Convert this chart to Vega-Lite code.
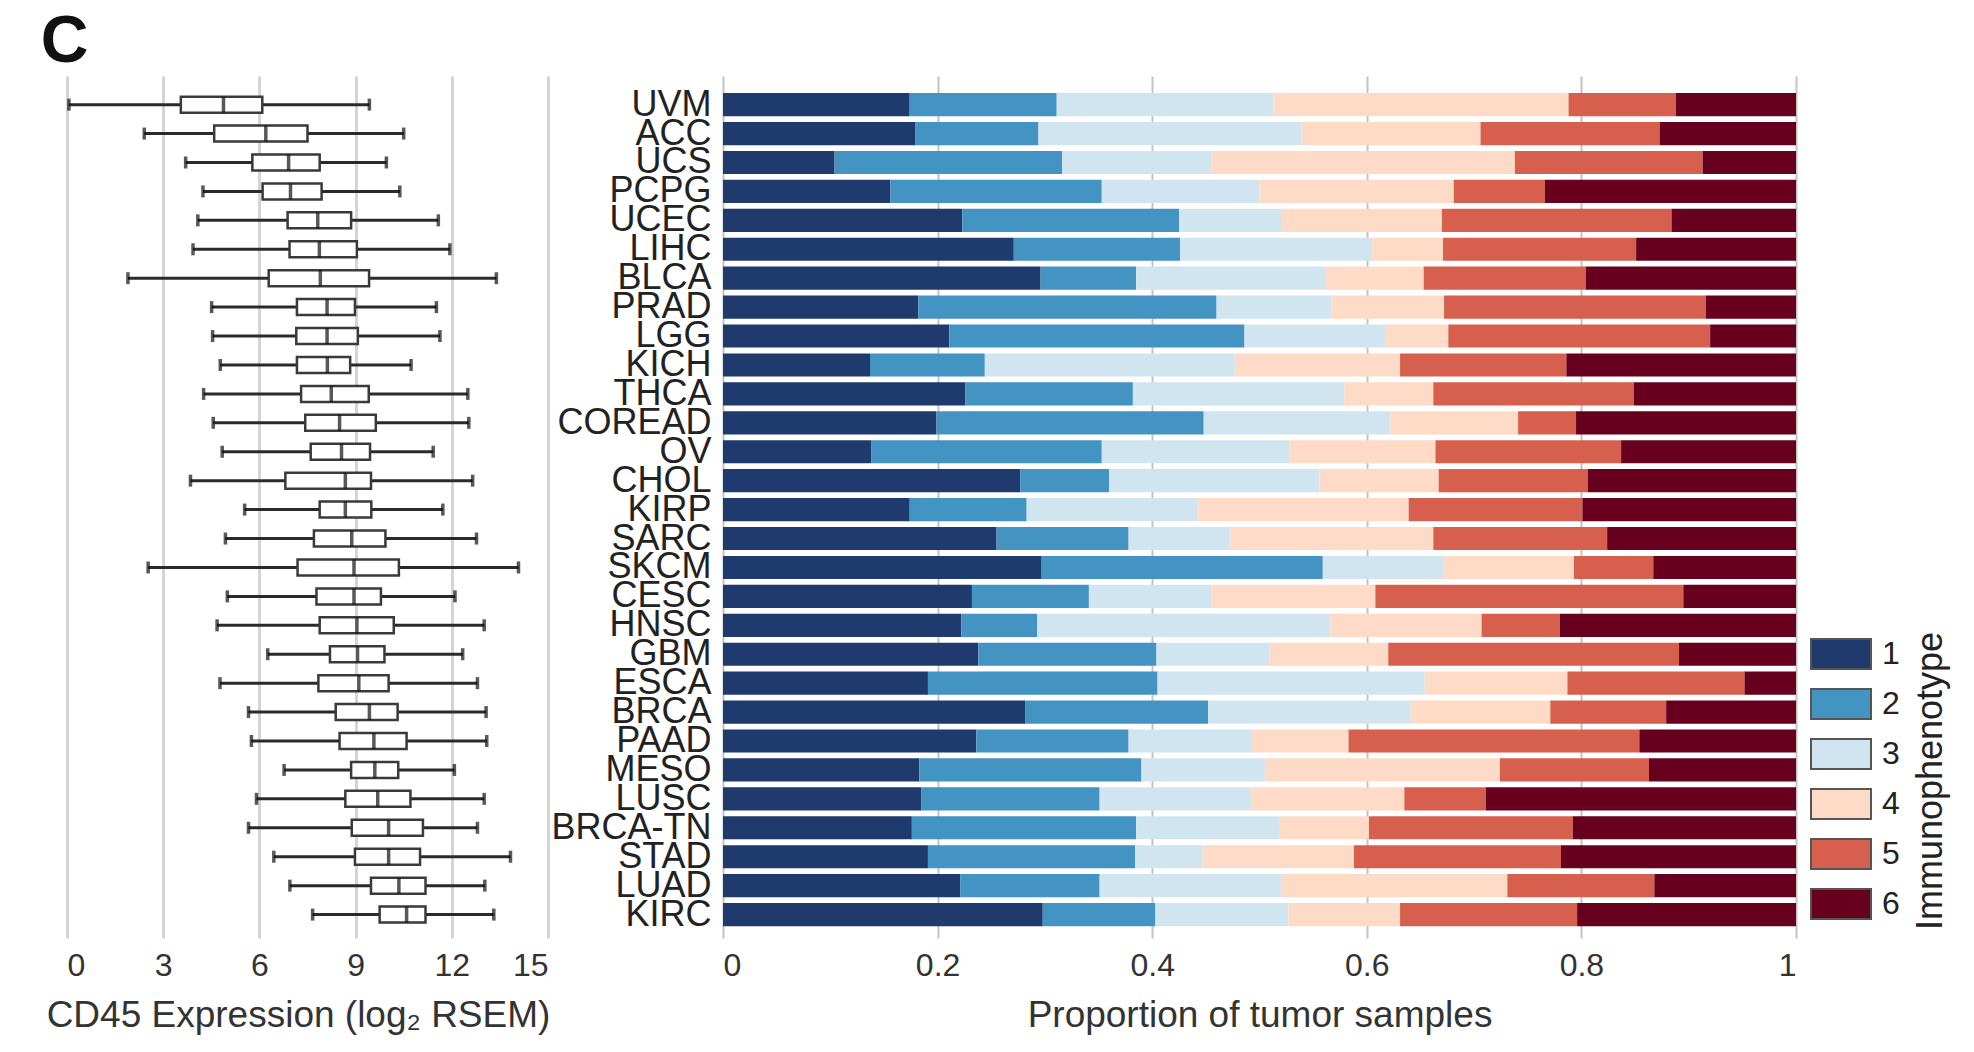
{
  "$schema": "https://vega.github.io/schema/vega-lite/v6.json",
  "background": "white",
  "padding": {"left": 40, "top": 9, "right": 10, "bottom": 10},
  "config": {
    "font": "Liberation Sans",
    "view": {"stroke": null},
    "axis": {"labelColor": "#333", "titleColor": "#333", "titleFontWeight": "normal", "domain": false, "ticks": false}
  },
  "title": {"text": "C", "fontSize": 66, "fontWeight": "bold", "anchor": "start", "color": "#111", "offset": 0, "dx": -5.5},
  "datasets": {
    "box": [
      {"cancer": "UVM", "min": 0.06, "q1": 3.55, "median": 4.88, "q3": 6.09, "max": 9.43},
      {"cancer": "ACC", "min": 2.41, "q1": 4.59, "median": 6.2, "q3": 7.5, "max": 10.5},
      {"cancer": "UCS", "min": 3.7, "q1": 5.78, "median": 6.91, "q3": 7.88, "max": 9.96},
      {"cancer": "PCPG", "min": 4.24, "q1": 6.1, "median": 6.97, "q3": 7.94, "max": 10.38},
      {"cancer": "UCEC", "min": 4.08, "q1": 6.88, "median": 7.82, "q3": 8.86, "max": 11.58},
      {"cancer": "LIHC", "min": 3.93, "q1": 6.94, "median": 7.87, "q3": 9.04, "max": 11.94},
      {"cancer": "BLCA", "min": 1.9, "q1": 6.29, "median": 7.9, "q3": 9.42, "max": 13.39},
      {"cancer": "PRAD", "min": 4.51, "q1": 7.17, "median": 8.11, "q3": 8.98, "max": 11.52},
      {"cancer": "LGG", "min": 4.54, "q1": 7.15, "median": 8.11, "q3": 9.07, "max": 11.63},
      {"cancer": "KICH", "min": 4.78, "q1": 7.17, "median": 8.12, "q3": 8.83, "max": 10.73},
      {"cancer": "THCA", "min": 4.26, "q1": 7.3, "median": 8.24, "q3": 9.41, "max": 12.5},
      {"cancer": "COREAD", "min": 4.56, "q1": 7.43, "median": 8.5, "q3": 9.63, "max": 12.53},
      {"cancer": "OV", "min": 4.84, "q1": 7.6, "median": 8.56, "q3": 9.45, "max": 11.42},
      {"cancer": "CHOL", "min": 3.85, "q1": 6.81, "median": 8.68, "q3": 9.48, "max": 12.65},
      {"cancer": "KIRP", "min": 5.54, "q1": 7.88, "median": 8.68, "q3": 9.49, "max": 11.72},
      {"cancer": "SARC", "min": 4.94, "q1": 7.7, "median": 8.88, "q3": 9.93, "max": 12.77},
      {"cancer": "SKCM", "min": 2.53, "q1": 7.19, "median": 8.95, "q3": 10.35, "max": 14.08},
      {"cancer": "CESC", "min": 5.0, "q1": 7.78, "median": 8.95, "q3": 9.79, "max": 12.1},
      {"cancer": "HNSC", "min": 4.68, "q1": 7.88, "median": 9.04, "q3": 10.19, "max": 13.01},
      {"cancer": "GBM", "min": 6.26, "q1": 8.2, "median": 9.06, "q3": 9.9, "max": 12.34},
      {"cancer": "ESCA", "min": 4.77, "q1": 7.84, "median": 9.1, "q3": 10.03, "max": 12.8},
      {"cancer": "BRCA", "min": 5.66, "q1": 8.38, "median": 9.43, "q3": 10.31, "max": 13.07},
      {"cancer": "PAAD", "min": 5.75, "q1": 8.5, "median": 9.57, "q3": 10.59, "max": 13.09},
      {"cancer": "MESO", "min": 6.77, "q1": 8.86, "median": 9.6, "q3": 10.33, "max": 12.08},
      {"cancer": "LUSC", "min": 5.91, "q1": 8.68, "median": 9.69, "q3": 10.71, "max": 13.01},
      {"cancer": "BRCA-TN", "min": 5.66, "q1": 8.88, "median": 10.03, "q3": 11.1, "max": 12.8},
      {"cancer": "STAD", "min": 6.45, "q1": 8.98, "median": 10.03, "q3": 11.01, "max": 13.83},
      {"cancer": "LUAD", "min": 6.95, "q1": 9.48, "median": 10.35, "q3": 11.18, "max": 13.03},
      {"cancer": "KIRC", "min": 7.66, "q1": 9.75, "median": 10.59, "q3": 11.18, "max": 13.31}
    ],
    "props": [
      {"cancer": "UVM", "phenotype": 1, "proportion": 0.174}, {"cancer": "UVM", "phenotype": 2, "proportion": 0.137}, {"cancer": "UVM", "phenotype": 3, "proportion": 0.202}, {"cancer": "UVM", "phenotype": 4, "proportion": 0.275}, {"cancer": "UVM", "phenotype": 5, "proportion": 0.100}, {"cancer": "UVM", "phenotype": 6, "proportion": 0.112},
      {"cancer": "ACC", "phenotype": 1, "proportion": 0.179}, {"cancer": "ACC", "phenotype": 2, "proportion": 0.115}, {"cancer": "ACC", "phenotype": 3, "proportion": 0.245}, {"cancer": "ACC", "phenotype": 4, "proportion": 0.167}, {"cancer": "ACC", "phenotype": 5, "proportion": 0.167}, {"cancer": "ACC", "phenotype": 6, "proportion": 0.127},
      {"cancer": "UCS", "phenotype": 1, "proportion": 0.104}, {"cancer": "UCS", "phenotype": 2, "proportion": 0.212}, {"cancer": "UCS", "phenotype": 3, "proportion": 0.139}, {"cancer": "UCS", "phenotype": 4, "proportion": 0.283}, {"cancer": "UCS", "phenotype": 5, "proportion": 0.175}, {"cancer": "UCS", "phenotype": 6, "proportion": 0.087},
      {"cancer": "PCPG", "phenotype": 1, "proportion": 0.156}, {"cancer": "PCPG", "phenotype": 2, "proportion": 0.197}, {"cancer": "PCPG", "phenotype": 3, "proportion": 0.147}, {"cancer": "PCPG", "phenotype": 4, "proportion": 0.181}, {"cancer": "PCPG", "phenotype": 5, "proportion": 0.085}, {"cancer": "PCPG", "phenotype": 6, "proportion": 0.234},
      {"cancer": "UCEC", "phenotype": 1, "proportion": 0.223}, {"cancer": "UCEC", "phenotype": 2, "proportion": 0.202}, {"cancer": "UCEC", "phenotype": 3, "proportion": 0.096}, {"cancer": "UCEC", "phenotype": 4, "proportion": 0.149}, {"cancer": "UCEC", "phenotype": 5, "proportion": 0.214}, {"cancer": "UCEC", "phenotype": 6, "proportion": 0.116},
      {"cancer": "LIHC", "phenotype": 1, "proportion": 0.271}, {"cancer": "LIHC", "phenotype": 2, "proportion": 0.155}, {"cancer": "LIHC", "phenotype": 3, "proportion": 0.179}, {"cancer": "LIHC", "phenotype": 4, "proportion": 0.066}, {"cancer": "LIHC", "phenotype": 5, "proportion": 0.180}, {"cancer": "LIHC", "phenotype": 6, "proportion": 0.149},
      {"cancer": "BLCA", "phenotype": 1, "proportion": 0.296}, {"cancer": "BLCA", "phenotype": 2, "proportion": 0.089}, {"cancer": "BLCA", "phenotype": 3, "proportion": 0.176}, {"cancer": "BLCA", "phenotype": 4, "proportion": 0.092}, {"cancer": "BLCA", "phenotype": 5, "proportion": 0.151}, {"cancer": "BLCA", "phenotype": 6, "proportion": 0.196},
      {"cancer": "PRAD", "phenotype": 1, "proportion": 0.182}, {"cancer": "PRAD", "phenotype": 2, "proportion": 0.278}, {"cancer": "PRAD", "phenotype": 3, "proportion": 0.107}, {"cancer": "PRAD", "phenotype": 4, "proportion": 0.105}, {"cancer": "PRAD", "phenotype": 5, "proportion": 0.244}, {"cancer": "PRAD", "phenotype": 6, "proportion": 0.084},
      {"cancer": "LGG", "phenotype": 1, "proportion": 0.211}, {"cancer": "LGG", "phenotype": 2, "proportion": 0.275}, {"cancer": "LGG", "phenotype": 3, "proportion": 0.131}, {"cancer": "LGG", "phenotype": 4, "proportion": 0.059}, {"cancer": "LGG", "phenotype": 5, "proportion": 0.244}, {"cancer": "LGG", "phenotype": 6, "proportion": 0.080},
      {"cancer": "KICH", "phenotype": 1, "proportion": 0.137}, {"cancer": "KICH", "phenotype": 2, "proportion": 0.107}, {"cancer": "KICH", "phenotype": 3, "proportion": 0.233}, {"cancer": "KICH", "phenotype": 4, "proportion": 0.154}, {"cancer": "KICH", "phenotype": 5, "proportion": 0.155}, {"cancer": "KICH", "phenotype": 6, "proportion": 0.214},
      {"cancer": "THCA", "phenotype": 1, "proportion": 0.226}, {"cancer": "THCA", "phenotype": 2, "proportion": 0.156}, {"cancer": "THCA", "phenotype": 3, "proportion": 0.197}, {"cancer": "THCA", "phenotype": 4, "proportion": 0.083}, {"cancer": "THCA", "phenotype": 5, "proportion": 0.187}, {"cancer": "THCA", "phenotype": 6, "proportion": 0.151},
      {"cancer": "COREAD", "phenotype": 1, "proportion": 0.199}, {"cancer": "COREAD", "phenotype": 2, "proportion": 0.249}, {"cancer": "COREAD", "phenotype": 3, "proportion": 0.174}, {"cancer": "COREAD", "phenotype": 4, "proportion": 0.119}, {"cancer": "COREAD", "phenotype": 5, "proportion": 0.054}, {"cancer": "COREAD", "phenotype": 6, "proportion": 0.205},
      {"cancer": "OV", "phenotype": 1, "proportion": 0.138}, {"cancer": "OV", "phenotype": 2, "proportion": 0.215}, {"cancer": "OV", "phenotype": 3, "proportion": 0.175}, {"cancer": "OV", "phenotype": 4, "proportion": 0.136}, {"cancer": "OV", "phenotype": 5, "proportion": 0.173}, {"cancer": "OV", "phenotype": 6, "proportion": 0.163},
      {"cancer": "CHOL", "phenotype": 1, "proportion": 0.277}, {"cancer": "CHOL", "phenotype": 2, "proportion": 0.083}, {"cancer": "CHOL", "phenotype": 3, "proportion": 0.196}, {"cancer": "CHOL", "phenotype": 4, "proportion": 0.111}, {"cancer": "CHOL", "phenotype": 5, "proportion": 0.139}, {"cancer": "CHOL", "phenotype": 6, "proportion": 0.194},
      {"cancer": "KIRP", "phenotype": 1, "proportion": 0.174}, {"cancer": "KIRP", "phenotype": 2, "proportion": 0.109}, {"cancer": "KIRP", "phenotype": 3, "proportion": 0.160}, {"cancer": "KIRP", "phenotype": 4, "proportion": 0.196}, {"cancer": "KIRP", "phenotype": 5, "proportion": 0.162}, {"cancer": "KIRP", "phenotype": 6, "proportion": 0.199},
      {"cancer": "SARC", "phenotype": 1, "proportion": 0.255}, {"cancer": "SARC", "phenotype": 2, "proportion": 0.123}, {"cancer": "SARC", "phenotype": 3, "proportion": 0.095}, {"cancer": "SARC", "phenotype": 4, "proportion": 0.189}, {"cancer": "SARC", "phenotype": 5, "proportion": 0.162}, {"cancer": "SARC", "phenotype": 6, "proportion": 0.176},
      {"cancer": "SKCM", "phenotype": 1, "proportion": 0.297}, {"cancer": "SKCM", "phenotype": 2, "proportion": 0.262}, {"cancer": "SKCM", "phenotype": 3, "proportion": 0.112}, {"cancer": "SKCM", "phenotype": 4, "proportion": 0.122}, {"cancer": "SKCM", "phenotype": 5, "proportion": 0.074}, {"cancer": "SKCM", "phenotype": 6, "proportion": 0.133},
      {"cancer": "CESC", "phenotype": 1, "proportion": 0.232}, {"cancer": "CESC", "phenotype": 2, "proportion": 0.109}, {"cancer": "CESC", "phenotype": 3, "proportion": 0.114}, {"cancer": "CESC", "phenotype": 4, "proportion": 0.153}, {"cancer": "CESC", "phenotype": 5, "proportion": 0.287}, {"cancer": "CESC", "phenotype": 6, "proportion": 0.105},
      {"cancer": "HNSC", "phenotype": 1, "proportion": 0.222}, {"cancer": "HNSC", "phenotype": 2, "proportion": 0.071}, {"cancer": "HNSC", "phenotype": 3, "proportion": 0.273}, {"cancer": "HNSC", "phenotype": 4, "proportion": 0.141}, {"cancer": "HNSC", "phenotype": 5, "proportion": 0.073}, {"cancer": "HNSC", "phenotype": 6, "proportion": 0.220},
      {"cancer": "GBM", "phenotype": 1, "proportion": 0.238}, {"cancer": "GBM", "phenotype": 2, "proportion": 0.166}, {"cancer": "GBM", "phenotype": 3, "proportion": 0.105}, {"cancer": "GBM", "phenotype": 4, "proportion": 0.111}, {"cancer": "GBM", "phenotype": 5, "proportion": 0.271}, {"cancer": "GBM", "phenotype": 6, "proportion": 0.109},
      {"cancer": "ESCA", "phenotype": 1, "proportion": 0.191}, {"cancer": "ESCA", "phenotype": 2, "proportion": 0.214}, {"cancer": "ESCA", "phenotype": 3, "proportion": 0.249}, {"cancer": "ESCA", "phenotype": 4, "proportion": 0.133}, {"cancer": "ESCA", "phenotype": 5, "proportion": 0.165}, {"cancer": "ESCA", "phenotype": 6, "proportion": 0.048},
      {"cancer": "BRCA", "phenotype": 1, "proportion": 0.282}, {"cancer": "BRCA", "phenotype": 2, "proportion": 0.170}, {"cancer": "BRCA", "phenotype": 3, "proportion": 0.189}, {"cancer": "BRCA", "phenotype": 4, "proportion": 0.130}, {"cancer": "BRCA", "phenotype": 5, "proportion": 0.108}, {"cancer": "BRCA", "phenotype": 6, "proportion": 0.121},
      {"cancer": "PAAD", "phenotype": 1, "proportion": 0.236}, {"cancer": "PAAD", "phenotype": 2, "proportion": 0.142}, {"cancer": "PAAD", "phenotype": 3, "proportion": 0.115}, {"cancer": "PAAD", "phenotype": 4, "proportion": 0.090}, {"cancer": "PAAD", "phenotype": 5, "proportion": 0.271}, {"cancer": "PAAD", "phenotype": 6, "proportion": 0.146},
      {"cancer": "MESO", "phenotype": 1, "proportion": 0.183}, {"cancer": "MESO", "phenotype": 2, "proportion": 0.207}, {"cancer": "MESO", "phenotype": 3, "proportion": 0.115}, {"cancer": "MESO", "phenotype": 4, "proportion": 0.219}, {"cancer": "MESO", "phenotype": 5, "proportion": 0.139}, {"cancer": "MESO", "phenotype": 6, "proportion": 0.137},
      {"cancer": "LUSC", "phenotype": 1, "proportion": 0.185}, {"cancer": "LUSC", "phenotype": 2, "proportion": 0.166}, {"cancer": "LUSC", "phenotype": 3, "proportion": 0.141}, {"cancer": "LUSC", "phenotype": 4, "proportion": 0.143}, {"cancer": "LUSC", "phenotype": 5, "proportion": 0.076}, {"cancer": "LUSC", "phenotype": 6, "proportion": 0.289},
      {"cancer": "BRCA-TN", "phenotype": 1, "proportion": 0.176}, {"cancer": "BRCA-TN", "phenotype": 2, "proportion": 0.209}, {"cancer": "BRCA-TN", "phenotype": 3, "proportion": 0.134}, {"cancer": "BRCA-TN", "phenotype": 4, "proportion": 0.083}, {"cancer": "BRCA-TN", "phenotype": 5, "proportion": 0.190}, {"cancer": "BRCA-TN", "phenotype": 6, "proportion": 0.208},
      {"cancer": "STAD", "phenotype": 1, "proportion": 0.191}, {"cancer": "STAD", "phenotype": 2, "proportion": 0.193}, {"cancer": "STAD", "phenotype": 3, "proportion": 0.063}, {"cancer": "STAD", "phenotype": 4, "proportion": 0.141}, {"cancer": "STAD", "phenotype": 5, "proportion": 0.193}, {"cancer": "STAD", "phenotype": 6, "proportion": 0.219},
      {"cancer": "LUAD", "phenotype": 1, "proportion": 0.221}, {"cancer": "LUAD", "phenotype": 2, "proportion": 0.130}, {"cancer": "LUAD", "phenotype": 3, "proportion": 0.169}, {"cancer": "LUAD", "phenotype": 4, "proportion": 0.211}, {"cancer": "LUAD", "phenotype": 5, "proportion": 0.137}, {"cancer": "LUAD", "phenotype": 6, "proportion": 0.132},
      {"cancer": "KIRC", "phenotype": 1, "proportion": 0.298}, {"cancer": "KIRC", "phenotype": 2, "proportion": 0.105}, {"cancer": "KIRC", "phenotype": 3, "proportion": 0.124}, {"cancer": "KIRC", "phenotype": 4, "proportion": 0.104}, {"cancer": "KIRC", "phenotype": 5, "proportion": 0.165}, {"cancer": "KIRC", "phenotype": 6, "proportion": 0.204}
    ]
  },
  "spacing": 175,
  "bounds": "flush",
  "hconcat": [
    {
      "width": 481,
      "height": 862,
      "data": {"name": "box"},
      "encoding": {
        "y": {"field": "cancer", "type": "nominal", "axis": null,
          "scale": {"type": "band", "domain": ["UVM","ACC","UCS","PCPG","UCEC","LIHC","BLCA","PRAD","LGG","KICH","THCA","COREAD","OV","CHOL","KIRP","SARC","SKCM","CESC","HNSC","GBM","ESCA","BRCA","PAAD","MESO","LUSC","BRCA-TN","STAD","LUAD","KIRC"], "paddingInner": 0.2, "paddingOuter": 0.5, "align": 0.59}}
      },
      "layer": [
        {
          "mark": {"type": "rule", "color": "#2a2a2a", "strokeWidth": 3},
          "encoding": {
            "x": {"field": "min", "type": "quantitative", "scale": {"domain": [0, 15], "nice": false},
              "axis": {"title": "CD45 Expression (log₂ RSEM)", "values": [0, 3, 6, 9, 12, 15], "grid": true, "gridColor": "#d5d5d5", "gridWidth": 3, "labelFontSize": 32, "labelPadding": 12, "titleFontSize": 37, "titlePadding": 16, "titleX": 231}},
            "x2": {"field": "max"}
          }
        },
        {
          "mark": {"type": "tick", "color": "#111", "thickness": 3.5, "size": 12},
          "encoding": {"x": {"field": "min", "type": "quantitative"}}
        },
        {
          "mark": {"type": "tick", "color": "#111", "thickness": 3.5, "size": 12},
          "encoding": {"x": {"field": "max", "type": "quantitative"}}
        },
        {
          "mark": {"type": "bar", "fill": "white", "stroke": "#3a3a3a", "strokeWidth": 2.5, "size": 16},
          "encoding": {"x": {"field": "q1", "type": "quantitative"}, "x2": {"field": "q3"}}
        },
        {
          "mark": {"type": "tick", "color": "#111", "thickness": 3.5, "size": 16},
          "encoding": {"x": {"field": "median", "type": "quantitative"}}
        }
      ]
    },
    {
      "width": 1073,
      "height": 862,
      "data": {"name": "props"},
      "mark": {"type": "bar"},
      "encoding": {
        "y": {"field": "cancer", "type": "nominal",
          "scale": {"type": "band", "domain": ["UVM","ACC","UCS","PCPG","UCEC","LIHC","BLCA","PRAD","LGG","KICH","THCA","COREAD","OV","CHOL","KIRP","SARC","SKCM","CESC","HNSC","GBM","ESCA","BRCA","PAAD","MESO","LUSC","BRCA-TN","STAD","LUAD","KIRC"], "paddingInner": 0.2, "paddingOuter": 0.5, "align": 0.59},
          "axis": {"title": null, "labelFontSize": 36, "labelColor": "#222", "labelPadding": 12, "labelOverlap": false, "labelBound": false}},
        "x": {"field": "proportion", "type": "quantitative", "stack": "zero", "scale": {"domain": [0, 1], "nice": false},
          "axis": {"title": "Proportion of tumor samples", "values": [0, 0.2, 0.4, 0.6, 0.8, 1], "format": "~g", "grid": true, "gridColor": "#c4c4c4", "gridWidth": 2, "labelFontSize": 32, "labelPadding": 12, "titleFontSize": 37, "titlePadding": 16}},
        "order": {"field": "phenotype", "type": "quantitative", "sort": "ascending"},
        "color": {"field": "phenotype", "type": "nominal",
          "scale": {"domain": [1, 2, 3, 4, 5, 6], "range": ["#1f3b6d", "#4393c3", "#d1e5f0", "#fddbc7", "#d6604d", "#67001f"]},
          "legend": {"title": "Immunophenotype", "orient": "none", "legendX": 1758, "legendY": 562, "padding": 0,
            "symbolType": "M-2,-1H2V1H-2Z", "symbolSize": 900, "symbolStrokeColor": "#555", "symbolStrokeWidth": 2, "symbolOpacity": 1,
            "labelFontSize": 32, "labelColor": "#222", "labelOffset": 25, "rowPadding": 12,
            "titleOrient": "right", "titleLimit": 600, "titleFontSize": 36, "titleFontWeight": "normal", "titleColor": "#222", "titleAnchor": "middle", "titleAlign": "center", "titleBaseline": "top", "titlePadding": 14,
            "encode": {"title": {"update": {"angle": {"value": 270}}}}}}
      }
    }
  ]
}
